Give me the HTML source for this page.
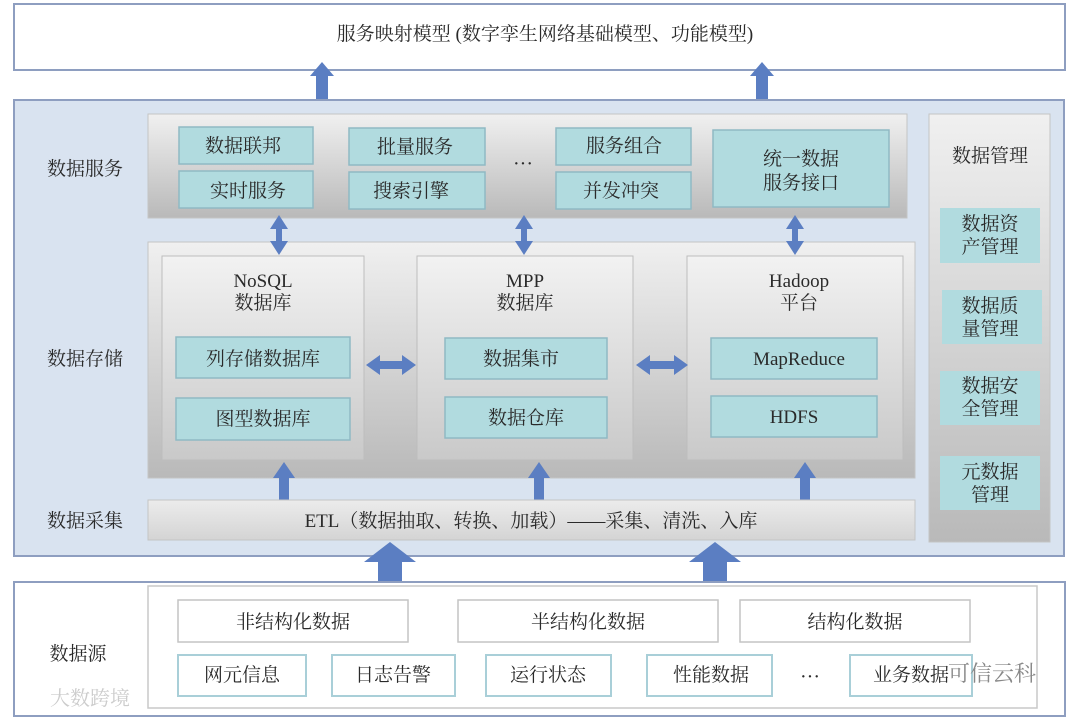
<!DOCTYPE html>
<html><head><meta charset="utf-8"><style>
html,body{margin:0;padding:0;background:#fff;}
svg text{font-family:"Liberation Serif","Noto Serif CJK SC",serif;fill:#2a2a2a;}
</style></head><body>
<svg width="1080" height="720" viewBox="0 0 1080 720" xmlns="http://www.w3.org/2000/svg">
<defs>
<linearGradient id="g" x1="0" y1="0" x2="0" y2="1"><stop offset="0" stop-color="#f0f0f0"/><stop offset="1" stop-color="#b9b9b9"/></linearGradient>
<linearGradient id="g2" x1="0" y1="0" x2="0" y2="1"><stop offset="0" stop-color="#f2f2f2"/><stop offset="1" stop-color="#c9c9c9"/></linearGradient>
<linearGradient id="g3" x1="0" y1="0" x2="0" y2="1"><stop offset="0" stop-color="#ececec"/><stop offset="1" stop-color="#d4d4d4"/></linearGradient>
</defs>
<g font-size="19" text-anchor="middle">
<rect x="14" y="4" width="1051" height="66" fill="#fff" stroke="#8e9ec0" stroke-width="2"/>
<text x="545" y="40">服务映射模型 (数字孪生网络基础模型、功能模型)</text>
<path d="M316 100V76H310L322 62L334 76H328V100Z" fill="#5b7ec2"/>
<path d="M756 100V76H750L762 62L774 76H768V100Z" fill="#5b7ec2"/>
<rect x="14" y="100" width="1050" height="456" fill="#d9e3f0" stroke="#8e9ec0" stroke-width="2"/>
<text x="85" y="175">数据服务</text>
<text x="85" y="365">数据存储</text>
<text x="85" y="527">数据采集</text>
<rect x="148" y="114" width="759" height="104" fill="url(#g)" stroke="#c4c4c4"/>
<g fill="#b1dbdf" stroke="#8fb9c4" stroke-width="1.5">
<rect x="179" y="127" width="134" height="37"/><rect x="179" y="171" width="134" height="37"/>
<rect x="349" y="128" width="136" height="37"/><rect x="349" y="172" width="136" height="37"/>
<rect x="556" y="128" width="135" height="37"/><rect x="556" y="172" width="135" height="37"/>
<rect x="713" y="130" width="176" height="77"/>
</g>
<text x="243" y="152">数据联邦</text><text x="248" y="197">实时服务</text>
<text x="415" y="153">批量服务</text><text x="411" y="197">搜索引擎</text>
<text x="624" y="152">服务组合</text><text x="621" y="197">并发冲突</text>
<text x="801" y="165">统一数据</text><text x="801" y="189">服务接口</text>
<text x="523" y="170" font-size="20">···</text>
<rect x="148" y="242" width="767" height="236" fill="url(#g)" stroke="#c4c4c4"/>
<g fill="url(#g2)" stroke="#bdbdbd">
<rect x="162" y="256" width="202" height="204"/>
<rect x="417" y="256" width="216" height="204"/>
<rect x="687" y="256" width="216" height="204"/>
</g>
<text x="263" y="287">NoSQL</text><text x="263" y="309">数据库</text>
<text x="525" y="287">MPP</text><text x="525" y="309">数据库</text>
<text x="799" y="287">Hadoop</text><text x="799" y="309">平台</text>
<g fill="#b1dbdf" stroke="#8fb9c4" stroke-width="1.5">
<rect x="176" y="337" width="174" height="41"/><rect x="176" y="398" width="174" height="42"/>
<rect x="445" y="338" width="162" height="41"/><rect x="445" y="397" width="162" height="41"/>
<rect x="711" y="338" width="166" height="41"/><rect x="711" y="396" width="166" height="41"/>
</g>
<text x="263" y="365">列存储数据库</text><text x="263" y="425">图型数据库</text>
<text x="521" y="365">数据集市</text><text x="526" y="424">数据仓库</text>
<text x="799" y="365">MapReduce</text><text x="794" y="423">HDFS</text>
<g fill="#5b7ec2">
<path d="M366 365L380 355V361H402V355L416 365L402 375V369H380V375Z"/>
<path d="M636 365L650 355V361H674V355L688 365L674 375V369H650V375Z"/>
<path d="M279 500V478H273L284 462L295 478H289V500Z"/>
<path d="M534 500V478H528L539 462L550 478H544V500Z"/>
<path d="M800 500V478H794L805 462L816 478H810V500Z"/>
<path d="M279 215L270 229H276V241H270L279 255L288 241H282V229H288Z"/>
<path d="M524 215L515 229H521V241H515L524 255L533 241H527V229H533Z"/>
<path d="M795 215L786 229H792V241H786L795 255L804 241H798V229H804Z"/>
</g>
<rect x="148" y="500" width="767" height="40" fill="url(#g3)" stroke="#c4c4c4"/>
<text x="531" y="527">ETL（数据抽取、转换、加载）——采集、清洗、入库</text>
<rect x="929" y="114" width="121" height="428" fill="url(#g)" stroke="#c4c4c4"/>
<text x="990" y="162">数据管理</text>
<g fill="#b1dbdf">
<rect x="940" y="208" width="100" height="55"/><rect x="942" y="290" width="100" height="54"/>
<rect x="940" y="371" width="100" height="54"/><rect x="940" y="456" width="100" height="54"/>
</g>
<text x="990" y="230">数据资</text><text x="990" y="253">产管理</text>
<text x="990" y="312">数据质</text><text x="990" y="335">量管理</text>
<text x="990" y="392">数据安</text><text x="990" y="415">全管理</text>
<text x="990" y="478">元数据</text><text x="990" y="501">管理</text>
<g fill="#5b7ec2">
<path d="M378 582V562H364L390 542L416 562H402V582Z"/>
<path d="M703 582V562H689L715 542L741 562H727V582Z"/>
</g>
<rect x="14" y="582" width="1051" height="134" fill="#fff" stroke="#8e9ec0" stroke-width="2"/>
<rect x="148" y="586" width="889" height="122" fill="#fff" stroke="#c8c8c8" stroke-width="1.5"/>
<text x="78" y="660">数据源</text>
<g fill="#fff" stroke="#c4c4c4" stroke-width="1.5">
<rect x="178" y="600" width="230" height="42"/><rect x="458" y="600" width="260" height="42"/><rect x="740" y="600" width="230" height="42"/>
</g>
<text x="293" y="628">非结构化数据</text><text x="588" y="628">半结构化数据</text><text x="855" y="628">结构化数据</text>
<g fill="#fff" stroke="#a9cfd8" stroke-width="2">
<rect x="178" y="655" width="128" height="41"/><rect x="332" y="655" width="123" height="41"/>
<rect x="486" y="655" width="125" height="41"/><rect x="647" y="655" width="125" height="41"/>
<rect x="850" y="655" width="122" height="41"/>
</g>
<text x="242" y="681">网元信息</text><text x="393" y="681">日志告警</text><text x="548" y="681">运行状态</text><text x="711" y="681">性能数据</text><text x="810" y="683" font-size="20">···</text><text x="911" y="681">业务数据</text>
<text x="992" y="681" font-size="22" style="fill:#888">可信云科</text>
<text x="90" y="705" font-size="20" style="fill:#ccc">大数跨境</text>
</g>
</svg>
</body></html>
